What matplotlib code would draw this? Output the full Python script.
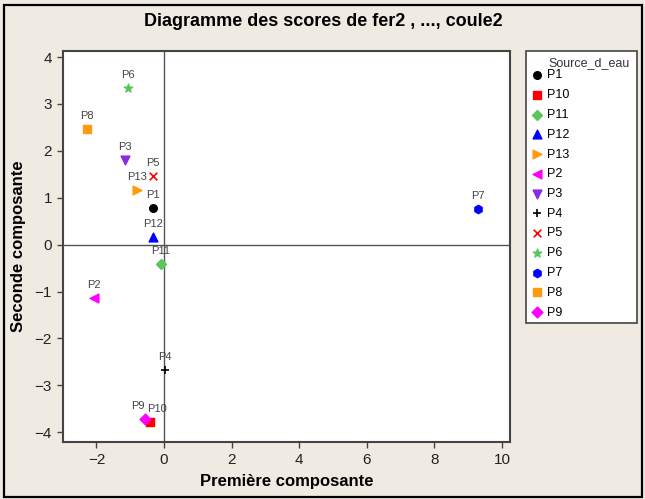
import matplotlib
matplotlib.use("Agg")
import matplotlib.pyplot as plt
from matplotlib.patches import Rectangle

labels = ["P1", "P10", "P11", "P12", "P13", "P2", "P3", "P4", "P5", "P6", "P7", "P8", "P9"]
x_vals = [-0.33, -0.41, -0.09, -0.33, -0.80, -2.07, -1.15, 0.03, -0.33, -1.07, 9.29, -2.28, -0.56]
y_vals = [0.78, -3.78, -0.42, 0.16, 1.16, -1.14, 1.80, -2.68, 1.46, 3.34, 0.76, 2.46, -3.72]
markers = ["o", "s", "D", "^", ">", "<", "v", "+", "x", "*", "h", "s", "D"]
colors = ["#000000", "#ff0000", "#5cc65c", "#0000ff", "#ff9a10", "#ff00ff", "#8a2be2",
          "#000000", "#ff0000", "#5cc65c", "#0000ff", "#ff9a10", "#ff00ff"]
sizes = [30, 36, 26, 40, 40, 40, 40, 40, 30, 40, 36, 40, 30]
label_dx = [0, 5, 0, 0, 0, 0, 0, 0, 0, 0, 0, 0, -5]

xticks = [-2, 0, 2, 4, 6, 8, 10]
yticks = [-4, -3, -2, -1, 0, 1, 2, 3, 4]

plt.rcParams['font.family'] = ["Liberation Sans", "DejaVu Sans"]

W, H = 645, 499
fig = plt.figure(figsize=(W / 100, H / 100), dpi=100)
fig.patch.set_facecolor("#efebe3")
fig.patches.append(Rectangle((4 / W, 2 / H), 638 / W, 492 / H, transform=fig.transFigure,
                             fill=False, edgecolor="black", linewidth=1.6))

ax = fig.add_axes([63 / W, 1 - 442 / H, (510 - 63) / W, (442 - 51) / H])
ax.set_facecolor("white")
ax.set_xlim(-2.99, 10.24)
ax.set_ylim(-4.21, 4.13)

ax.axhline(0, color="#555555", linewidth=1.0, zorder=1)
ax.axvline(0, color="#555555", linewidth=1.0, zorder=1)

for lab, xv, yv, m, c, s, dx in zip(labels, x_vals, y_vals, markers, colors, sizes, label_dx):
    lw = 1.2 if m in ("+", "x") else None
    ax.scatter([xv], [yv], marker=m, color=c, s=s, linewidths=lw,
               label=lab, zorder=3)
    ax.annotate(lab, (xv, yv), xytext=(dx, 6), textcoords="offset points",
                ha="center", va="bottom", fontsize=8, color="#444444", zorder=4)

ax.set_xticks(xticks)
ax.set_yticks(yticks)
ax.tick_params(direction="out", length=4, width=1, color="#444444", labelsize=11,
               labelcolor="#222222", pad=4)
for sp in ax.spines.values():
    sp.set_color("#444444")
    sp.set_linewidth(1.5)

ax.set_xlabel("Première composante", fontsize=12, fontweight="bold", labelpad=5)
ax.set_ylabel("Seconde composante", fontsize=12, fontweight="bold", labelpad=6)
fig.text(323 / W, 1 - 22 / H, "Diagramme des scores de fer2 , ..., coule2",
         ha="center", va="center", fontsize=13, fontweight="bold")

# legend frame and title
fig.patches.append(Rectangle((526 / W, 1 - 323 / H), 111 / W, 272 / H,
                             transform=fig.transFigure, facecolor="white",
                             edgecolor="#444444", linewidth=1.2, zorder=0))
fig.text(589 / W, 1 - 63 / H, "Source_d_eau", ha="center", va="center",
         fontsize=9, color="#333333")

handles, hl = ax.get_legend_handles_labels()
leg = fig.legend(handles, hl, loc="upper left",
                 bbox_to_anchor=(528 / W, 1 - 69.5 / H),
                 borderaxespad=0, frameon=False, fontsize=9,
                 handletextpad=0.1, handlelength=1.4, labelspacing=0.62,
                 borderpad=0, scatterpoints=1)

fig.savefig("out.png", dpi=100, facecolor=fig.get_facecolor())
